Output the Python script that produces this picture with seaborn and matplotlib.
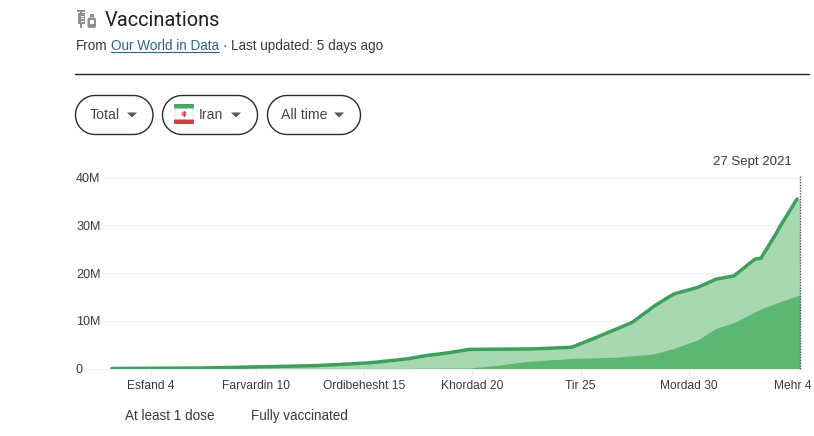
import matplotlib
matplotlib.use("Agg")
import matplotlib.pyplot as plt
import matplotlib.dates as mdates
from matplotlib.patches import FancyBboxPatch, Polygon, Rectangle, Circle
from matplotlib.transforms import ScaledTranslation
import numpy as np
import pandas as pd
import seaborn as sns

total_dates = ["2021-02-10", "2021-03-12", "2021-03-31", "2021-04-19", "2021-04-27", "2021-05-07",
               "2021-05-19", "2021-05-26", "2021-06-01", "2021-06-09", "2021-06-20", "2021-06-30",
               "2021-07-13", "2021-07-20", "2021-08-02", "2021-08-10", "2021-08-16", "2021-08-24",
               "2021-08-30", "2021-09-05", "2021-09-12", "2021-09-14", "2021-09-19", "2021-09-20",
               "2021-09-26"]
at_least_one = [0.0, 0.1, 0.35, 0.6, 0.85, 1.2, 2.0, 2.75, 3.2, 4.0, 4.05, 4.1, 4.45, 6.2, 9.6,
                13.3, 15.6, 17.0, 18.7, 19.4, 22.9, 23.1, 28.2, 29.4, 35.5]
full_dates = ["2021-02-10", "2021-05-15", "2021-06-09", "2021-06-20", "2021-06-27", "2021-07-08",
              "2021-07-13", "2021-07-27", "2021-08-09", "2021-08-16", "2021-08-24", "2021-08-30",
              "2021-09-05", "2021-09-14", "2021-09-20", "2021-09-27"]
fully_vaccinated = [0.0, 0.03, 0.1, 0.8, 1.4, 1.9, 2.1, 2.35, 3.0, 4.2, 6.0, 8.4, 9.6, 12.5, 13.9, 15.4]
tick_dates = ["2021-02-23", "2021-03-30", "2021-05-05", "2021-06-10", "2021-07-16", "2021-08-21", "2021-09-26"]
tick_labels = ["Esfand 4", "Farvardin 10", "Ordibehesht 15", "Khordad 20", "Tir 25", "Mordad 30", "Mehr 4"]
y_ticks = [0, 10, 20, 30, 40]
y_labels = ["0", "10M", "20M", "30M", "40M"]
legend_labels = ["At least 1 dose", "Fully vaccinated"]

sns.set_theme(style="white")
plt.rcParams["font.family"] = ["Liberation Sans", "DejaVu Sans"]

W, H = 814, 436
LINE, LIGHT, DARK = "#3c9f5c", "#a7d8b1", "#5cb773"
TEXT = "#3a3a3a"
fs = lambda px: px * 72 / 100

fig = plt.figure(figsize=(W / 100, H / 100), dpi=100, facecolor="white")

AX_L, AX_R = 103, 800
ax = fig.add_axes([AX_L / W, 1 - 368.5 / H, (AX_R - AX_L) / W, 191 / H])
df_total = pd.DataFrame({"date": pd.to_datetime(total_dates), "value": at_least_one})
df_full = pd.DataFrame({"date": pd.to_datetime(full_dates), "value": fully_vaccinated})
df_edge = df_total.iloc[[-1]].assign(date=pd.Timestamp("2021-09-27"))
df_fill = pd.concat([df_total, df_edge])

ax.set_ylim(0, 40)
d0 = mdates.date2num(pd.Timestamp("2021-02-23"))
d1 = mdates.date2num(pd.Timestamp("2021-09-27"))
ppd = (AX_R - 151) / (d1 - d0)
ax.set_xlim(mdates.num2date(d0 - (151 - AX_L) / ppd), pd.Timestamp("2021-09-27"))

for v in y_ticks:
    ax.axhline(v, color="#f1f1f1", lw=1, zorder=0, clip_on=False)

ax.fill_between(df_fill["date"], df_fill["value"], color=LIGHT, lw=0, zorder=1)
ax.fill_between(df_full["date"], df_full["value"], color=DARK, lw=0, zorder=2)
sns.lineplot(data=df_total, x="date", y="value", ax=ax, color=LINE, lw=2.5, zorder=3,
             estimator=None, errorbar=None)
ax.axvline(pd.Timestamp("2021-09-27"), color="#555555", lw=1, ls=(0, (1, 1)), zorder=4, ymax=1.01, clip_on=False)

for s in ax.spines.values():
    s.set_visible(False)
ax.set_xlabel("")
ax.set_ylabel("")
ax.set_yticks(y_ticks, y_labels, fontsize=fs(12.6), color=TEXT)
ax.set_xticks(pd.to_datetime(tick_dates), tick_labels, fontsize=fs(12), color=TEXT)
ax.tick_params(axis="x", length=5, width=1, color="#ececec", pad=3, bottom=True)
ax.tick_params(axis="y", length=0, pad=(AX_L - 76) * 0.72)
for lab in ax.get_yticklabels():
    lab.set_horizontalalignment("left")
last = ax.get_xticklabels()[-1]
last.set_transform(last.get_transform() + ScaledTranslation(-4 / 100, 0, fig.dpi_scale_trans))
ax.patch.set_alpha(0)

# page chrome overlay in pixel coordinates
ui = fig.add_axes([0, 0, 1, 1], zorder=5)
ui.set_xlim(0, W)
ui.set_ylim(H, 0)
ui.axis("off")

ui.plot([84, AX_L], [368.5, 368.5], color="#f1f1f1", lw=1)

ui.text(105, 20, "Vaccinations", fontsize=fs(20), color="#202124", family="Roboto", va="center")
ui.text(76, 46, "From", fontsize=fs(13.5), color=TEXT, va="center")
ui.text(111, 46, "Our World in Data", fontsize=fs(13.5), color="#2a6496", va="center")
ui.plot([111, 218.5], [52.5, 52.5], color="#2a6496", lw=0.8)
ui.text(222, 46, "·", fontsize=fs(13.5), color=TEXT, va="center")
ui.text(231, 46, "Last updated: 5 days ago", fontsize=fs(13.5), color=TEXT, va="center")
ui.plot([75, 809], [74.5, 74.5], color="#222222", lw=1)

# icon: syringe and vial
GREY = "#8f8f8f"
ui.add_patch(Rectangle((77, 10), 8, 1.6, color=GREY, lw=0))
ui.add_patch(Rectangle((80, 10), 2, 4, color=GREY, lw=0))
ui.add_patch(Rectangle((77.5, 13.5), 7, 11, color=GREY, lw=0))
for yy in (16, 18.4, 20.8):
    ui.add_patch(Rectangle((80.5, yy), 3, 1, color="white", lw=0))
ui.add_patch(Rectangle((80.3, 24.5), 1.5, 3.8, color=GREY, lw=0))
ui.add_patch(Rectangle((89.5, 14), 4.5, 3, color=GREY, lw=0))
ui.add_patch(FancyBboxPatch((87.5, 17.5), 8.5, 10.5, boxstyle="round,pad=0,rounding_size=2", color=GREY, lw=0))
ui.add_patch(Rectangle((89.5, 20.5), 4.5, 3.5, color="white", lw=0))


def stadium(x0, x1, y0, y1):
    r = (y1 - y0) / 2
    t = np.linspace(-np.pi / 2, np.pi / 2, 40)
    right = np.column_stack([x1 - r + r * np.cos(t), (y0 + y1) / 2 + r * np.sin(t)])
    left = np.column_stack([x0 + r - r * np.cos(t[::-1]), (y0 + y1) / 2 + r * np.sin(t[::-1])])
    return np.vstack([right, left])


pills = [(75.5, 153, "Total", 90, 132), (162.5, 257.5, "Iran", 199, 236), (267.5, 360.5, "All time", 281, 339)]
for x0, x1, label, tx, ax_x in pills:
    ui.add_patch(Polygon(stadium(x0, x1, 95.5, 134.5), closed=True, fc="white", ec="#2b2b2b", lw=1))
    ui.text(tx, 114.5, label, fontsize=fs(14), color="#444444", va="center")
    ui.add_patch(Polygon([[ax_x - 5, 112.5], [ax_x + 5, 112.5], [ax_x, 117.5]], color="#555555", lw=0))

# flag of Iran
ui.add_patch(FancyBboxPatch((174, 104), 20, 20, boxstyle="round,pad=0,rounding_size=1.5", fc="#f1f1f1", ec="none"))
ui.add_patch(Rectangle((176, 108), 16, 12, fc="white", ec="none"))
ui.add_patch(FancyBboxPatch((174, 104), 20, 4.5, boxstyle="round,pad=0,rounding_size=1.2", fc="#4aa668", ec="none"))
ui.add_patch(FancyBboxPatch((174, 119.5), 20, 4.5, boxstyle="round,pad=0,rounding_size=1.2", fc="#cf4040", ec="none"))
ui.add_patch(Circle((184, 114), 2.6, fc="#d98080", ec="none"))
ui.add_patch(Rectangle((183.5, 111), 1, 6, fc="#c23a3a", ec="none"))

ui.text(792, 162, "27 Sept 2021", fontsize=fs(13.2), color=TEXT, ha="right", va="center")
ui.text(125, 416, legend_labels[0], fontsize=fs(13.5), color=TEXT, va="center")
ui.text(251, 416, legend_labels[1], fontsize=fs(13.5), color=TEXT, va="center")

fig.savefig("out.png", dpi=100, facecolor="white")
